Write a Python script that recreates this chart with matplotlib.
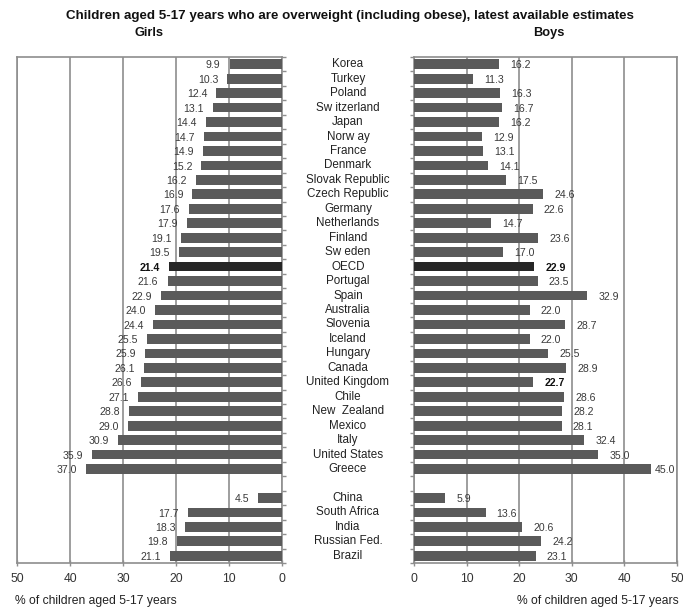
import matplotlib
matplotlib.use("Agg")
import matplotlib.pyplot as plt
import matplotlib.transforms as mtrans
import numpy as np

plt.rcParams['font.family'] = ['Liberation Sans', 'DejaVu Sans']

countries = ["Korea", "Turkey", "Poland", "Sw itzerland", "Japan", "Norw ay", "France",
             "Denmark", "Slovak Republic", "Czech Republic", "Germany", "Netherlands",
             "Finland", "Sw eden", "OECD", "Portugal", "Spain", "Australia", "Slovenia",
             "Iceland", "Hungary", "Canada", "United Kingdom", "Chile", "New  Zealand",
             "Mexico", "Italy", "United States", "Greece"]
girls = [9.9, 10.3, 12.4, 13.1, 14.4, 14.7, 14.9, 15.2, 16.2, 16.9, 17.6, 17.9, 19.1,
         19.5, 21.4, 21.6, 22.9, 24.0, 24.4, 25.5, 25.9, 26.1, 26.6, 27.1, 28.8, 29.0,
         30.9, 35.9, 37.0]
boys = [16.2, 11.3, 16.3, 16.7, 16.2, 12.9, 13.1, 14.1, 17.5, 24.6, 22.6, 14.7, 23.6,
        17.0, 22.9, 23.5, 32.9, 22.0, 28.7, 22.0, 25.5, 28.9, 22.7, 28.6, 28.2, 28.1,
        32.4, 35.0, 45.0]

others = ["China", "South Africa", "India", "Russian Fed.", "Brazil"]
girls_others = [4.5, 17.7, 18.3, 19.8, 21.1]
boys_others = [5.9, 13.6, 20.6, 24.2, 23.1]

bold_girls = ["OECD"]
bold_boys = ["OECD", "United Kingdom"]
highlight = "OECD"

title = "Children aged 5-17 years who are overweight (including obese), latest available estimates"
xlabel = "% of children aged 5-17 years"
xticks = [0, 10, 20, 30, 40, 50]

# slots: OECD block, blank gap, others
labels = countries + [""] + others
g_vals = girls + [None] + girls_others
b_vals = boys + [None] + boys_others
n = len(labels)
pos = np.arange(n)

BAR = "#5a5a5a"
DARK = "#262626"
GRID = "#8e8e8e"
TXT = "#3a3a3a"

fig = plt.figure(figsize=(6.83, 6.09), dpi=100)
W, H = 683, 609
def rect(x0, x1, y0, y1):
    return [x0 / W, 1 - y1 / H, (x1 - x0) / W, (y1 - y0) / H]

axL = fig.add_axes(rect(17, 282, 57, 563))
axR = fig.add_axes(rect(414, 677, 57, 563))

for ax, vals, side, bolds in ((axL, g_vals, "left", bold_girls), (axR, b_vals, "right", bold_boys)):
    idx = [i for i, v in enumerate(vals) if v is not None]
    vv = [vals[i] for i in idx]
    cols = [DARK if labels[i] == highlight else BAR for i in idx]
    ax.barh([pos[i] for i in idx], vv, height=0.67, color=cols, zorder=3)
    ax.set_xlim(0, 50)
    ax.set_ylim(n - 0.5, -0.5)
    if side == "left":
        ax.invert_xaxis()
    ax.set_xticks(xticks)
    ax.set_xticklabels([str(t) for t in xticks])
    ax.xaxis.grid(True, color=GRID, lw=1.2, zorder=1)
    ax.set_axisbelow(True)
    for sp in ax.spines.values():
        sp.set_color(GRID)
        sp.set_linewidth(1.2)
    ax.tick_params(axis='x', direction='inout', length=4, width=1.0, color=GRID,
                   labelsize=8.7, labelcolor="#333333", pad=5)
    # row boundary ticks
    ax.set_yticks(np.arange(-0.5, n, 1.0))
    ax.set_yticklabels([])
    if side == "left":
        ax.yaxis.tick_right()
    else:
        ax.yaxis.tick_left()
    ax.tick_params(axis='y', direction='out', length=3, width=1.0, color=GRID)
    for i, v in zip(idx, vv):
        isb = labels[i] in bolds
        kw = dict(fontsize=7.6, va='center', color=("#111111" if isb else TXT),
                  fontweight=('bold' if isb else 'normal'), textcoords='offset points', zorder=4)
        if side == "left":
            ax.annotate(f"{v:.1f}", (v, pos[i]), xytext=(-6.5, -0.8), ha='right', **kw)
        else:
            if v + 8.5 > 50:
                ax.annotate(f"{v:.1f}", (50, pos[i]), xytext=(-1, -0.8), ha='right', **kw)
            else:
                ax.annotate(f"{v:.1f}", (v, pos[i]), xytext=(8, -0.8), ha='left', **kw)

# category labels between panels
trans = mtrans.blended_transform_factory(fig.transFigure, axR.transData)
for i, lab in enumerate(labels):
    if lab:
        fig.text(348 / W, pos[i], lab, transform=trans, ha='center', va='center',
                 fontsize=8.4, color="#222222")

fig.text(350 / W, 1 - 16 / H, title, ha='center', va='center', fontsize=9.6,
         fontweight='bold', color="#111111")
fig.text(149 / W, 1 - 33 / H, "Girls", ha='center', va='center', fontsize=9.2,
         fontweight='bold', color="#111111")
fig.text(549 / W, 1 - 33 / H, "Boys", ha='center', va='center', fontsize=9.2,
         fontweight='bold', color="#111111")

fig.text(15 / W, 1 - 601 / H, xlabel, ha='left', va='center', fontsize=8.7, color="#222222")
fig.text(679 / W, 1 - 601 / H, xlabel, ha='right', va='center', fontsize=8.7, color="#222222")

fig.savefig("out.png", dpi=100)
